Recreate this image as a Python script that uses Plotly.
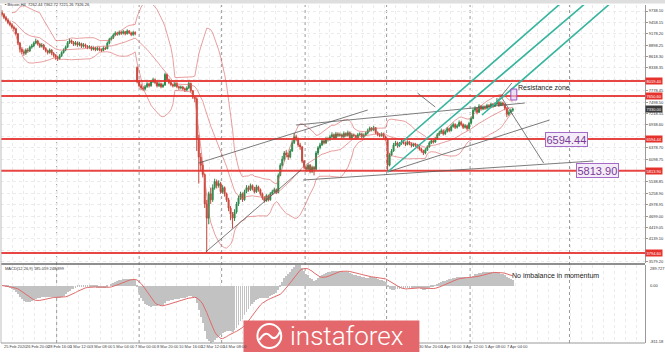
import plotly.graph_objects as go
import pandas as pd

# ---------------- data ----------------
first_open = 9700
gap_bars = [68]
gap_opens = [8350]

closes = [
    9650, 9580, 9520, 9450, 9400, 9340, 9300, 9180, 8950, 8800,
    8740, 8700, 8780, 8760, 8850, 8880, 8950, 9000, 8930, 8870,
    8900, 8820, 8760, 8720, 8780, 8700, 8650, 8600, 8570, 8640,
    8720, 8780, 8850, 8960, 9010, 8970, 8920, 8960, 8900, 8940,
    8870, 8910, 8870, 8840, 8860, 8800, 8830, 8790, 8820, 8790,
    8770, 8830, 8810, 8950, 9040, 9080, 9150, 9200, 9170, 9220,
    9190, 9230, 9180, 9250, 9200, 9160, 9210, 9180, 8000, 7900,
    7850, 7820, 7880, 7950, 7900, 8000, 8050, 7980, 7900, 7950,
    7880, 7920, 8180, 8050, 7980, 7930, 7900, 7960, 7880, 7850,
    7870, 7830, 7800, 7850, 7960, 7780, 7620, 7580, 6600, 6150,
    5950, 5720, 5000, 4650, 5250, 5100, 5400, 5550, 5450, 5500,
    5300, 5400, 5250, 5100, 4900, 4750, 4650, 4800, 5000, 5150,
    5250, 5100, 5300, 5400, 5350, 5450, 5380, 5300, 5420, 5350,
    5250, 5150, 5080, 5200, 5100, 5250, 5300, 5350, 5280, 5700,
    5950, 6100, 6250, 6200, 6150, 6300, 6500, 6650, 6600, 6450,
    6400, 6050, 5900, 5850, 5950, 5800, 5900, 5850, 6250, 6380,
    6450, 6550, 6500, 6600, 6580, 6650, 6700, 6620, 6720, 6680,
    6700, 6650, 6730, 6680, 6750, 6620, 6700, 6680, 6620, 6700,
    6720, 6650, 6690, 6740, 6800, 6860, 6820, 6870, 6750, 6700,
    6680, 6720, 6650, 6600, 5950, 6200, 6300, 6450, 6500, 6420,
    6480, 6530, 6500, 6460, 6520, 6480, 6430, 6470, 6440, 6400,
    6350, 6300, 6250, 6330, 6400, 6500, 6550, 6520, 6600, 6700,
    6750, 6800, 6720, 6780, 6850, 6800, 6900, 6950, 6880, 6920,
    7000, 6950, 6880, 6920, 6850, 6980, 7100, 7300, 7350, 7250,
    7400, 7330, 7380, 7350, 7420, 7380, 7450, 7400, 7450, 7500,
    7420, 7480, 7440, 7350, 7200, 7250, 7300, 7330,
]
highs = [
    9760, 9690, 9620, 9560, 9500, 9440, 9380, 9330, 9200, 8980,
    8850, 8790, 8820, 8830, 8890, 8930, 8990, 9060, 9030, 8960,
    8950, 8930, 8850, 8790, 8820, 8800, 8730, 8680, 8640, 8680,
    8750, 8820, 8890, 9000, 9060, 9040, 9000, 9000, 8990, 8980,
    8960, 8950, 8940, 8900, 8900, 8880, 8870, 8860, 8860, 8850,
    8820, 8870, 8860, 8990, 9080, 9120, 9190, 9240, 9230, 9260,
    9250, 9270, 9250, 9290, 9270, 9230, 9250, 9240, 8380, 8050,
    7950, 7890, 7920, 7990, 7980, 8040, 8100, 8080, 8010, 7990,
    7980, 7960, 8220, 8200, 8080, 8010, 7960, 8000, 7990, 7910,
    7910, 7900, 7860, 7890, 8000, 7980, 7800, 7660, 7620, 6700,
    6250, 6050, 5750, 5100, 5300, 5400, 5480, 5620, 5600, 5580,
    5540, 5460, 5430, 5280, 5150, 4950, 4800, 4870, 5050, 5200,
    5300, 5280, 5350, 5460, 5450, 5500, 5480, 5420, 5470, 5450,
    5380, 5280, 5190, 5240, 5230, 5290, 5350, 5400, 5380, 5750,
    6000, 6180, 6300, 6320, 6260, 6350, 6560, 6740, 6700, 6630,
    6500, 6420, 6080, 5950, 6000, 5980, 5940, 5930, 6300, 6420,
    6500, 6600, 6590, 6640, 6640, 6700, 6760, 6730, 6770, 6760,
    6750, 6730, 6780, 6760, 6800, 6780, 6740, 6730, 6700, 6740,
    6760, 6750, 6730, 6780, 6850, 6900, 6890, 6920, 6890, 6780,
    6740, 6760, 6750, 6680, 6620, 6250, 6350, 6500, 6550, 6530,
    6520, 6570, 6560, 6530, 6560, 6550, 6510, 6500, 6500, 6470,
    6430, 6380, 6330, 6370, 6440, 6540, 6600, 6590, 6640, 6740,
    6800, 6850, 6830, 6820, 6890, 6880, 6950, 7000, 6980, 6960,
    7050, 7040, 6980, 6960, 6950, 7020, 7150, 7350, 7400, 7380,
    7450, 7430, 7420, 7420, 7460, 7450, 7490, 7480, 7490, 7600,
    7530, 7520, 7510, 7470, 7380, 7300, 7340, 7360,
]
lows = [
    9600, 9540, 9480, 9410, 9360, 9300, 9250, 9140, 8900, 8720,
    8680, 8640, 8660, 8710, 8730, 8810, 8850, 8920, 8890, 8830,
    8840, 8780, 8720, 8670, 8690, 8650, 8600, 8540, 8510, 8540,
    8610, 8690, 8750, 8830, 8930, 8930, 8880, 8890, 8860, 8870,
    8830, 8840, 8830, 8800, 8810, 8760, 8770, 8750, 8760, 8750,
    8730, 8750, 8780, 8800, 8920, 9010, 9050, 9120, 9130, 9140,
    9150, 9160, 9140, 9160, 9170, 9120, 9130, 9140, 7960, 7860,
    7800, 7770, 7790, 7850, 7860, 7880, 7970, 7940, 7860, 7870,
    7840, 7850, 7900, 8010, 7940, 7890, 7860, 7870, 7840, 7800,
    7810, 7790, 7750, 7770, 7820, 7740, 7580, 7500, 6300, 5500,
    5800, 5650, 4900, 3800, 4500, 5000, 5050, 5350, 5380, 5400,
    5250, 5250, 5180, 5050, 4820, 4600, 4400, 4580, 4760, 4950,
    5100, 5050, 5080, 5260, 5300, 5320, 5330, 5260, 5270, 5300,
    5200, 5100, 5030, 5050, 5060, 5080, 5220, 5270, 5240, 5260,
    5680, 5920, 6050, 6150, 6080, 6120, 6280, 6470, 6540, 6400,
    6330, 6000, 5850, 5790, 5800, 5750, 5760, 5700, 5830, 6200,
    6340, 6420, 6460, 6470, 6530, 6550, 6620, 6580, 6590, 6640,
    6650, 6610, 6620, 6640, 6650, 6580, 6590, 6640, 6580, 6600,
    6670, 6610, 6620, 6660, 6710, 6770, 6780, 6790, 6710, 6660,
    6640, 6650, 6610, 6560, 5830, 5920, 6170, 6280, 6420, 6380,
    6400, 6450, 6460, 6420, 6440, 6440, 6390, 6400, 6400, 6360,
    6310, 6260, 6200, 6220, 6300, 6380, 6470, 6480, 6500, 6580,
    6670, 6720, 6680, 6690, 6750, 6760, 6780, 6870, 6840, 6850,
    6890, 6910, 6840, 6850, 6800, 6830, 6950, 7080, 7260, 7200,
    7230, 7290, 7300, 7310, 7320, 7340, 7350, 7360, 7380, 7420,
    7380, 7400, 7400, 7300, 7130, 7160, 7220, 7260,
]

# horizontal levels (price) and their right-hand labels
level_prices = [8019.40, 7650.60, 6594.44, 5813.90, 3794.60]
level_labels = ["8019.40", "7650.60", "6594.44", "5813.90", "3794.60"]

# right price scale
price_ticks = [9738.10, 9458.15, 9178.20, 8898.25, 8618.30, 8338.35, 8058.40,
               7778.45, 7498.50, 7218.55, 6938.60, 6658.65, 6378.70, 6098.75,
               5818.80, 5538.85, 5258.90, 4978.95, 4699.00, 4419.05, 4139.10,
               3859.15, 3579.20]
price_tick_text = ["9738.10", "9458.15", "9178.20", "8898.25", "8618.30", "8338.35", "",
                   "7778.45", "7498.50", "7218.55", "6938.60", "", "6378.70", "6098.75",
                   "", "5538.85", "5258.90", "4978.95", "4699.00", "4419.05", "4139.10",
                   "", "3579.20"]
price_range = [3549.0, 9885.5]

# time scale labels (bar index, text)
time_label_bars = [0, 11, 22, 33, 44, 55, 66, 77, 88, 99, 110, 209, 220, 231, 242, 253]
time_label_text = ["25 Feb 2020", "26 Feb 20:00", "28 Feb 16:00", "1 Mar 12:00",
                   "3 Mar 08:00", "5 Mar 04:00", "7 Mar 00:00", "8 Mar 20:00",
                   "10 Mar 16:00", "12 Mar 12:00", "14 Mar 08:00", "30 Mar 20:00",
                   "1 Apr 16:00", "3 Apr 12:00", "5 Apr 08:00", "7 Apr 04:00"]
grid_bars = [0, 5.5, 11, 16.5, 22, 27.5, 33, 38.5, 44, 49.5, 55, 60.5, 66, 71.5, 77,
             82.5, 88, 93.5, 99, 104.5, 110, 115.5, 121, 126.5, 132, 137.5, 143,
             148.5, 154, 159.5, 165, 170.5, 176, 181.5, 187, 192.5, 198, 203.5, 209,
             214.5, 220, 225.5, 231, 236.5, 242, 247.5, 253, 258.5, 264, 269.5, 275,
             280.5, 286, 291.5, 297, 302.5, 308, 313.5, 319]
separator_bars = [27.5, 69, 110.5, 152.5, 193.5, 235.5, 285.5]

# drawn trend lines: (bar0, price0, bar1, price1)
grey_b0 = [99, 148, 102.5, 151.5, 194, 251.5, 209, 247.5]
grey_p0 = [6005, 6938, 3819, 5587, 5784, 7601, 7724, 7429]
grey_b1 = [184, 263, 150.5, 297.5, 275.5, 272.5, 218, 256.5]
grey_p1 = [7306, 7478, 5833, 6054, 7061, 6005, 7380, 7970]
teal_b0 = [199, 194, 241.5]
teal_p0 = [6422, 5784, 7184]
teal_b1 = [283, 295.5, 308]
teal_p1 = [10008, 10008, 10008]
zone_bars = [256, 259]
zone_prices = [7552, 7822]

# ---------------- derived indicators ----------------
opens = [first_open] + closes[:-1]
for b, o in zip(gap_bars, gap_opens):
    opens[b] = o
bars = list(range(len(closes)))
s = pd.Series(closes, dtype=float)
bb_mid = s.rolling(20, min_periods=6).mean()
bb_sd = s.rolling(20, min_periods=6).std(ddof=0)
bb_up = bb_mid + 2 * bb_sd
bb_lo = bb_mid - 2 * bb_sd
macd = s.ewm(span=12, adjust=False).mean() - s.ewm(span=26, adjust=False).mean()
signal = macd.rolling(9, min_periods=1).mean()
macd_lo = float(min(macd.min(), signal.min()))
macd_hi = float(max(macd.max(), signal.max()))

# ---------------- layout helpers ----------------
W, H = 665, 352
L, R, T, B = 1, 16, 5, 9
PW, PH = W - L - R, H - T - B


def fx(px):
    return (px - L) / PW


def fy(py):
    return (H - B - py) / PH


FONT = "Liberation Sans, Arial, sans-serif"

fig = go.Figure()
fig.add_trace(go.Candlestick(
    x=bars, open=opens, high=highs, low=lows, close=closes,
    increasing=dict(line=dict(color="#2f8a4c", width=1), fillcolor="#2f8a4c"),
    decreasing=dict(line=dict(color="#c9453a", width=1), fillcolor="#c9453a"),
    whiskerwidth=0, xaxis="x", yaxis="y", showlegend=False, hoverinfo="skip"))
for band in (bb_up, bb_mid, bb_lo):
    fig.add_trace(go.Scatter(x=bars, y=band, mode="lines",
                             line=dict(color="rgba(222,100,100,0.7)", width=0.9),
                             xaxis="x", yaxis="y", showlegend=False, hoverinfo="skip"))
fig.add_trace(go.Bar(x=bars, y=macd, width=0.45, marker=dict(color="#c2c2c2", line=dict(width=0)),
                     xaxis="x2", yaxis="y2", showlegend=False, hoverinfo="skip"))
fig.add_trace(go.Scatter(x=bars, y=signal, mode="lines",
                         line=dict(color="#e06a6a", width=1),
                         xaxis="x2", yaxis="y2", showlegend=False, hoverinfo="skip"))

shapes = []
# top strip
shapes.append(dict(type="rect", xref="paper", yref="paper", x0=-0.01, x1=1.05,
                   y0=fy(3.5), y1=fy(-1), fillcolor="#dedede", line=dict(width=0), layer="below"))
# weekly separators
for sb in separator_bars:
    shapes.append(dict(type="line", xref="x", yref="paper", x0=sb, x1=sb, y0=0, y1=1,
                       line=dict(color="#9a9a9a", width=1, dash="dot"), layer="below"))
# horizontal levels
for lp in level_prices:
    shapes.append(dict(type="line", xref="paper", yref="y", x0=0, x1=1, y0=lp, y1=lp,
                       line=dict(color="rgba(230,50,45,0.9)", width=2)))
# grey trend lines
for a, b, c, d in zip(grey_b0, grey_p0, grey_b1, grey_p1):
    shapes.append(dict(type="line", xref="x", yref="y", x0=a, y0=b, x1=c, y1=d,
                       line=dict(color="#5a5a5a", width=0.8)))
# teal pitchfork
for a, b, c, d in zip(teal_b0, teal_p0, teal_b1, teal_p1):
    shapes.append(dict(type="line", xref="x", yref="y", x0=a, y0=b, x1=c, y1=d,
                       line=dict(color="#36b49e", width=1.6)))
# resistance zone box
shapes.append(dict(type="rect", xref="x", yref="y", x0=zone_bars[0], x1=zone_bars[1],
                   y0=zone_prices[0], y1=zone_prices[1], fillcolor="rgba(225,205,240,0.6)",
                   line=dict(color="#9b4fc0", width=1)))
# panel separator
shapes.append(dict(type="line", xref="paper", yref="paper", x0=0, x1=1.0, y0=fy(264), y1=fy(264),
                   line=dict(color="#6a6a6a", width=1.5)))
# left border
shapes.append(dict(type="line", xref="paper", yref="paper", x0=fx(1), x1=fx(1), y0=0, y1=1,
                   line=dict(color="#bdbdbd", width=1)))
# bottom border
shapes.append(dict(type="line", xref="paper", yref="paper", x0=0, x1=1, y0=0, y1=0,
                   line=dict(color="#9a9a9a", width=1)))
# logo block and emblem
shapes.append(dict(type="rect", xref="paper", yref="paper", x0=fx(245), x1=fx(422),
                   y0=fy(353), y1=fy(320.5), fillcolor="#e4686b", line=dict(width=0), layer="above"))
shapes.append(dict(type="circle", xref="paper", yref="paper", x0=fx(259), x1=fx(283),
                   y0=fy(348), y1=fy(324), line=dict(color="white", width=2), layer="above"))
shapes.append(dict(type="path", xref="paper", yref="paper", layer="above",
                   path=(f"M {fx(261)},{fy(340)} Q {fx(267)},{fy(330)} {fx(272)},{fy(336)} "
                         f"T {fx(282)},{fy(331)}"),
                   line=dict(color="white", width=2)))

ann = []
for lp, lt in zip(level_prices, level_labels):
    ann.append(dict(xref="paper", yref="y", x=1.0, y=lp, xanchor="left", yanchor="middle",
                    text=lt, showarrow=False, bgcolor="#e5322d",
                    font=dict(size=4, color="white", family=FONT), borderpad=0.6))
ann.append(dict(xref="paper", yref="y", x=1.0, y=closes[-1], xanchor="left", yanchor="middle",
                text=f"{closes[-1]:.2f}", showarrow=False, bgcolor="#3a3a3a",
                font=dict(size=4, color="white", family=FONT), borderpad=0.6))
# MACD scale labels (MT4 shows max, zero and min of the window)
ann.append(dict(xref="paper", yref="paper", x=fx(652), y=fy(268), xanchor="left", yanchor="middle",
                text=f"{macd_hi:.3f}", showarrow=False, font=dict(size=4, color="#333", family=FONT)))
ann.append(dict(xref="paper", yref="y2", x=fx(652), y=0, xanchor="left", yanchor="middle",
                text="0.00", showarrow=False, font=dict(size=4, color="#333", family=FONT)))
ann.append(dict(xref="paper", yref="paper", x=fx(652), y=fy(341), xanchor="left", yanchor="middle",
                text=f"{macd_lo:.2f}", showarrow=False, font=dict(size=4, color="#333", family=FONT)))
ann.append(dict(xref="x", yref="y", x=284, y=level_prices[2], text="6594.44", showarrow=False,
                font=dict(size=11, color="#7a3a96", family=FONT), bgcolor="#f4ecf8",
                bordercolor="#a46cc4", borderwidth=1, borderpad=0.5))
ann.append(dict(xref="x", yref="y", x=299.5, y=level_prices[3], text="5813.90", showarrow=False,
                font=dict(size=11, color="#7a3a96", family=FONT), bgcolor="#f4ecf8",
                bordercolor="#a46cc4", borderwidth=1, borderpad=0.5))
ann.append(dict(xref="x", yref="y", x=258.5, y=7860, xanchor="left", yanchor="middle",
                text="Resistance zone", showarrow=False, font=dict(size=7, color="#222", family=FONT)))
ann.append(dict(xref="x", yref="paper", x=255.5, y=fy(275), xanchor="left", yanchor="middle",
                text="No imbalance in momentum", showarrow=False,
                font=dict(size=7, color="#222", family=FONT)))
ann.append(dict(xref="paper", yref="paper", x=fx(3), y=fy(4.5), xanchor="left", yanchor="middle",
                text="\u25aa Bitcoin,H4  7262.44 7362.72 7221.26 7326.26", showarrow=False,
                font=dict(size=4, color="#333", family=FONT)))
ann.append(dict(xref="paper", yref="paper", x=fx(3), y=fy(268.5), xanchor="left", yanchor="middle",
                text="MACD(12,26,9) 185.059 248.899", showarrow=False,
                font=dict(size=4, color="#333", family=FONT)))
for tb, tt in zip(time_label_bars, time_label_text):
    ann.append(dict(xref="x", yref="paper", x=tb, y=fy(346.5), xanchor="left", yanchor="middle",
                    text=tt, showarrow=False, font=dict(size=4, color="#444", family=FONT)))
ann.append(dict(xref="paper", yref="paper", x=fx(290), y=fy(335.5), xanchor="left", yanchor="middle",
                text="instaforex", showarrow=False,
                font=dict(size=26, color="white", family="Roboto, sans-serif", weight=300)))

grid_style = dict(showgrid=True, gridcolor="#ebebeb", griddash="dot", gridwidth=1)
fig.update_layout(
    width=W, height=H, margin=dict(l=L, r=R, t=T, b=B),
    paper_bgcolor="white", plot_bgcolor="white",
    showlegend=False, bargap=0,
    xaxis=dict(domain=[0, 1], range=[-0.5, 323.5], anchor="y", tickmode="array",
               tickvals=grid_bars, showticklabels=False, ticks="", zeroline=False,
               rangeslider=dict(visible=False), **grid_style),
    xaxis2=dict(domain=[0, 1], range=[-0.5, 323.5], anchor="y2", matches="x", tickmode="array",
                tickvals=grid_bars, showticklabels=False, ticks="", zeroline=False, **grid_style),
    yaxis=dict(domain=[fy(263), 1], range=price_range, side="right", tickmode="array",
               tickvals=price_ticks, ticktext=price_tick_text,
               tickfont=dict(size=4, color="#333", family=FONT), ticks="outside", ticklen=2,
               tickcolor="#999", showline=True, linecolor="#9a9a9a", linewidth=1,
               zeroline=False, **grid_style),
    yaxis2=dict(domain=[0, fy(265)], range=[macd_lo, macd_hi], side="right",
                showticklabels=False, ticks="", showline=True, linecolor="#9a9a9a", linewidth=1,
                showgrid=False, zeroline=False),
    shapes=shapes, annotations=ann,
)
fig.write_html("out.html")
